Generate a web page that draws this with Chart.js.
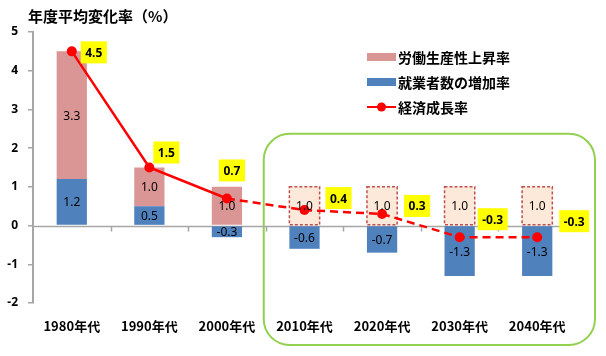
<!DOCTYPE html>
<html><head><meta charset="utf-8">
<script src="https://cdn.jsdelivr.net/npm/chart.js@4.4.1/dist/chart.umd.min.js"></script>
<style>html,body{margin:0;padding:0;background:#fff}#wrap{width:606px;height:356px}</style>
</head><body><div id="wrap"><canvas id="c" width="606" height="356"></canvas></div>
<script>
// ---- data ----
const categories = ['1980年代','1990年代','2000年代','2010年代','2020年代','2030年代','2040年代'];
const productivity = [3.3, 1.0, 1.0, 1.0, 1.0, 1.0, 1.0];
const employment = [1.2, 0.5, -0.3, -0.6, -0.7, -1.3, -1.3];
const growth = [4.5, 1.5, 0.7, 0.4, 0.3, -0.3, -0.3];
const yTicks = [-2, -1, 0, 1, 2, 3, 4, 5];
const seriesNames = ['労働生産性上昇率', '就業者数の増加率', '経済成長率'];
const titleText = '年度平均変化率（%）';
const projectionStart = 3; // first projected decade

// ---- styling (label placement offsets relative to each point, px) ----
const labelDX = [22, 17, 5, 34, 35, 33, 37];
const labelDY = [1, -15, -28, -12, -8, -18, -16];
const PINK = '#d99694', PINK_LIGHT = '#fde9d9', BLUE = '#4f81bd', RED = '#ff0000', GREEN = '#92d050', AXIS = '#a6a6a6';
const FONT = "'Noto Sans CJK JP', 'Noto Sans', sans-serif";
const NUMFONT = "'Noto Sans', sans-serif";

const fmt = v => v.toFixed(1);

const custom = {
  id: 'custom',
  beforeDatasetsDraw(chart) {
    const ctx = chart.ctx, xs = chart.scales.x, ys = chart.scales.y, ca = chart.chartArea;
    ctx.save();
    // green projection frame
    const left = (xs.getPixelForValue(projectionStart - 1) + xs.getPixelForValue(projectionStart)) / 2 - 2;
    const right = chart.width - 11;
    const top = ys.getPixelForValue(2.37);
    const bottom = chart.height - 11;
    ctx.strokeStyle = GREEN; ctx.lineWidth = 2;
    ctx.beginPath(); ctx.roundRect(left, top, right - left, bottom - top, 26); ctx.stroke();
    // zero line with tick marks
    const y0 = Math.round(ys.getPixelForValue(0)) + 0.5;
    ctx.strokeStyle = AXIS; ctx.lineWidth = 1.5;
    ctx.beginPath(); ctx.moveTo(ca.left, y0); ctx.lineTo(ca.right, y0);
    for (let i = 0; i < categories.length - 1; i++) {
      const bx = Math.round((xs.getPixelForValue(i) + xs.getPixelForValue(i + 1)) / 2) + 0.5;
      ctx.moveTo(bx, y0); ctx.lineTo(bx, y0 + 5);
    }
    ctx.stroke();
    ctx.restore();
  },
  afterDatasetDraw(chart, args) {
    if (args.index !== 1) return;
    const ctx = chart.ctx;
    ctx.save();
    ctx.strokeStyle = '#c0504d'; ctx.lineWidth = 1.5; ctx.setLineDash([3, 2]);
    args.meta.data.forEach((el, i) => {
      if (i < projectionStart) return;
      const p = el.getProps(['x', 'y', 'base', 'width'], true);
      const t = Math.min(p.y, p.base), h = Math.abs(p.base - p.y);
      ctx.strokeRect(p.x - p.width / 2, t, p.width, h);
    });
    ctx.restore();
  },
  afterDraw(chart) {
    const ctx = chart.ctx;
    ctx.save();
    // bar value labels
    ctx.font = '12px ' + NUMFONT; ctx.fillStyle = '#000'; ctx.textAlign = 'center'; ctx.textBaseline = 'middle';
    [0, 1].forEach(di => {
      const meta = chart.getDatasetMeta(di);
      meta.data.forEach((el, i) => {
        const p = el.getProps(['x', 'y', 'base'], true);
        ctx.fillText(fmt(chart.data.datasets[di].data[i]), p.x, (p.y + p.base) / 2 + 1);
      });
    });
    // growth labels in yellow boxes
    const lm = chart.getDatasetMeta(2);
    ctx.font = 'bold 12px ' + NUMFONT;
    lm.data.forEach((pt, i) => {
      const t = fmt(growth[i]);
      const w = ctx.measureText(t).width + 9, h = 22;
      const cx = pt.x + labelDX[i], cy = pt.y + labelDY[i];
      ctx.fillStyle = '#ffff00'; ctx.fillRect(cx - w / 2, cy - h / 2, w, h);
      ctx.fillStyle = '#000'; ctx.fillText(t, cx, cy + 1);
    });
    // title
    ctx.textAlign = 'left'; ctx.font = 'bold 15px ' + FONT; ctx.fillStyle = '#000';
    ctx.fillText(titleText, 28, 16);
    // legend
    const lx = 367, ly = [57, 82, 107];
    ctx.font = 'bold 14px ' + FONT;
    ctx.fillStyle = PINK; ctx.fillRect(lx, ly[0] - 4, 29, 8);
    ctx.fillStyle = BLUE; ctx.fillRect(lx, ly[1] - 4, 29, 8);
    ctx.strokeStyle = RED; ctx.lineWidth = 2; ctx.beginPath(); ctx.moveTo(lx, ly[2]); ctx.lineTo(lx + 29, ly[2]); ctx.stroke();
    ctx.fillStyle = RED; ctx.beginPath(); ctx.arc(lx + 14.5, ly[2], 4.5, 0, Math.PI * 2); ctx.fill();
    ctx.fillStyle = '#000';
    seriesNames.forEach((n, i) => ctx.fillText(n, lx + 31, ly[i] + 1));
    ctx.restore();
  }
};

new Chart(document.getElementById('c'), {
  type: 'bar',
  data: {
    labels: categories,
    datasets: [
      { label: seriesNames[1], data: employment, backgroundColor: BLUE, order: 1, stack: 'bars' },
      { label: seriesNames[0], data: productivity, order: 2, stack: 'bars',
        backgroundColor: productivity.map((_, i) => i < projectionStart ? PINK : PINK_LIGHT) },
      { type: 'line', label: seriesNames[2], data: growth, order: 0, stack: 'gdp',
        borderColor: RED, backgroundColor: RED, borderWidth: 2.5, pointRadius: 5, pointHoverRadius: 5,
        pointBorderWidth: 0, tension: 0,
        segment: { borderDash: c => c.p0DataIndex >= projectionStart - 1 ? [8, 5] : undefined } }
    ]
  },
  options: {
    responsive: false, animation: false, devicePixelRatio: 1,
    layout: { padding: { top: 32, right: 30, left: 0, bottom: 0 } },
    datasets: { bar: { barPercentage: 0.39, categoryPercentage: 1 } },
    plugins: { legend: { display: false }, tooltip: { enabled: false }, title: { display: false } },
    scales: {
      x: {
        stacked: true,
        grid: { display: false, drawTicks: false },
        border: { display: false },
        ticks: { color: '#000', font: { family: FONT, size: 13, weight: 'bold' }, padding: 15, maxRotation: 0 },
        afterFit: s => { s.height = 53; }
      },
      y: {
        stacked: true, min: -2, max: 5,
        afterBuildTicks: s => { s.ticks = yTicks.map(v => ({ value: v })); },
        grid: { drawOnChartArea: false, drawTicks: true, tickLength: 5, color: AXIS, lineWidth: 1.5 },
        border: { display: true, color: AXIS, width: 2 },
        ticks: { color: '#000', font: { family: NUMFONT, size: 12, weight: 'bold' }, padding: 10 },
        afterFit: s => { s.width = 33; }
      }
    }
  },
  plugins: [custom]
});
</script></body></html>
